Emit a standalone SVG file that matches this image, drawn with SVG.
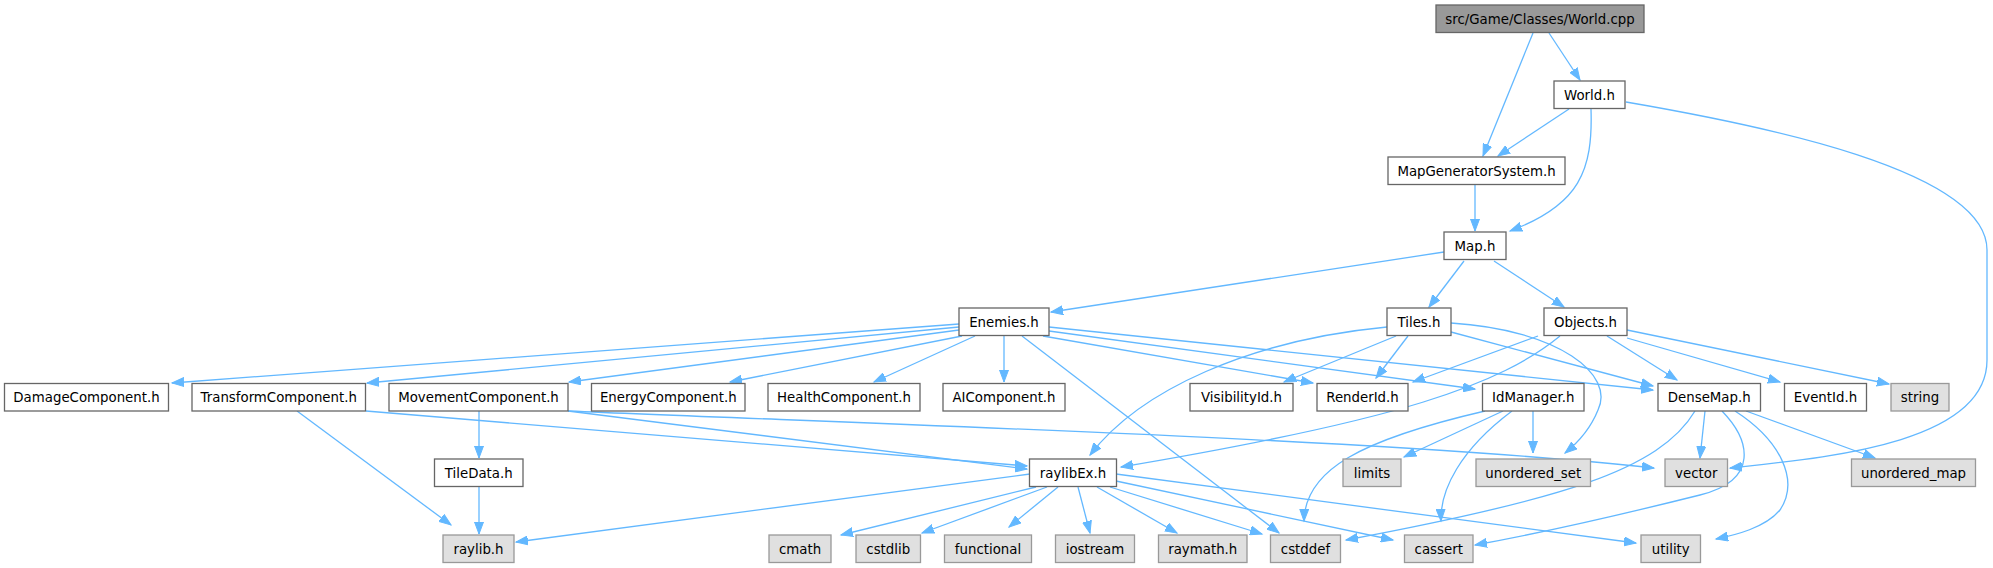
<svg xmlns="http://www.w3.org/2000/svg" width="1993" height="568" viewBox="0 0 1993 568">
<style>
.n rect{fill:#ffffff;stroke:#666666;stroke-width:1.3}
.n.root rect{fill:#999999;stroke:#666666}
.n.sys rect{fill:#e0e0e0;stroke:#999999}
.n text{font-family:"DejaVu Sans","Liberation Sans",sans-serif;font-size:13.33px;fill:#000000;text-anchor:middle}
#edges path{fill:none;stroke:#63b8ff;stroke-width:1.3;marker-end:url(#arr)}
</style>
<defs>
<marker id="arr" markerWidth="14" markerHeight="10" refX="12" refY="5" orient="auto" markerUnits="userSpaceOnUse">
<path d="M0,0.5 L12,5 L0,9.5 z" fill="#63b8ff" stroke="#63b8ff" stroke-width="1"/>
</marker>
</defs>
<rect width="1993" height="568" fill="#ffffff"/>
<g id="edges">
<path d="M1533,33 L1483,156"/>
<path d="M1549,33 L1580,80"/>
<path d="M1569,109 L1498,156"/>
<path d="M1591,109 C1593,170 1580,205 1510,231"/>
<path d="M1626,102 C1760,125 1987,170 1987,250 L1987,360 C1987,445 1820,458 1730,468"/>
<path d="M1475,185 L1475,231"/>
<path d="M1444,252 L1051,312"/>
<path d="M1464,261 L1429,307"/>
<path d="M1494,261 L1564,307"/>
<path d="M959,324 L172,383"/>
<path d="M959,327 L367,383"/>
<path d="M959,330 L569,382"/>
<path d="M962,336 L730,382"/>
<path d="M975,336 L874,382"/>
<path d="M1004,336 L1004,382"/>
<path d="M1022,336 L1279,533"/>
<path d="M1043,336 L1313,383"/>
<path d="M1049,331 L1475,389"/>
<path d="M1049,327 L1653,390"/>
<path d="M1387,327 C1250,340 1140,390 1090,455"/>
<path d="M1396,336 L1284,382"/>
<path d="M1408,336 L1376,378"/>
<path d="M1451,332 L1653,386"/>
<path d="M1451,323 C1560,330 1615,375 1598,410 C1590,430 1575,445 1565,453"/>
<path d="M1538,336 L1413,382"/>
<path d="M1560,336 C1500,385 1400,420 1121,467"/>
<path d="M1607,336 L1677,380"/>
<path d="M1627,338 L1780,382"/>
<path d="M1627,330 L1889,384"/>
<path d="M297,411 L451,525"/>
<path d="M366,411 L1027,466"/>
<path d="M479,411 L479,458"/>
<path d="M568,411 L1027,469"/>
<path d="M568,411 C900,425 1400,440 1654,468"/>
<path d="M479,487 L479,534"/>
<path d="M1030,474 L516,542"/>
<path d="M1036,487 L841,535"/>
<path d="M1047,487 L922,533"/>
<path d="M1058,487 L1009,527"/>
<path d="M1078,487 L1090,533"/>
<path d="M1097,487 L1177,533"/>
<path d="M1110,487 L1262,534"/>
<path d="M1116,481 L1393,540"/>
<path d="M1116,474 L1636,543"/>
<path d="M1503,411 L1404,457"/>
<path d="M1533,411 L1533,453"/>
<path d="M1485,411 C1360,440 1305,470 1304,521"/>
<path d="M1512,411 C1460,450 1440,490 1441,521"/>
<path d="M1705,411 L1700,458"/>
<path d="M1746,411 L1875,458"/>
<path d="M1695,411 C1660,470 1560,500 1346,540"/>
<path d="M1722,411 C1750,440 1760,480 1700,495 C1620,515 1530,535 1475,545"/>
<path d="M1735,411 C1780,440 1800,480 1780,510 C1765,528 1735,535 1716,539"/>
</g>
<g id="n_worldcpp" class="n root"><rect x="1436" y="5" width="208" height="27.5"/><text x="1540" y="23.5">src/Game/Classes/World.cpp</text></g>
<g id="n_worldh" class="n"><rect x="1554" y="81" width="71" height="27.5"/><text x="1589.5" y="99.5">World.h</text></g>
<g id="n_mapgen" class="n"><rect x="1388" y="157" width="177" height="27.5"/><text x="1476.5" y="175.5">MapGeneratorSystem.h</text></g>
<g id="n_map" class="n"><rect x="1444" y="232" width="62" height="27.5"/><text x="1475" y="250.5">Map.h</text></g>
<g id="n_enemies" class="n"><rect x="959" y="308" width="90" height="27.5"/><text x="1004" y="326.5">Enemies.h</text></g>
<g id="n_tiles" class="n"><rect x="1387" y="308" width="64" height="27.5"/><text x="1419" y="326.5">Tiles.h</text></g>
<g id="n_objects" class="n"><rect x="1544" y="308" width="83" height="27.5"/><text x="1585.5" y="326.5">Objects.h</text></g>
<g id="n_damage" class="n"><rect x="4.5" y="383.5" width="164" height="27.5"/><text x="86.5" y="402">DamageComponent.h</text></g>
<g id="n_transform" class="n"><rect x="192" y="383.5" width="173.5" height="27.5"/><text x="278.75" y="402">TransformComponent.h</text></g>
<g id="n_movement" class="n"><rect x="389" y="383.5" width="179" height="27.5"/><text x="478.5" y="402">MovementComponent.h</text></g>
<g id="n_energy" class="n"><rect x="591.5" y="383.5" width="153.5" height="27.5"/><text x="668.25" y="402">EnergyComponent.h</text></g>
<g id="n_health" class="n"><rect x="768" y="383.5" width="152" height="27.5"/><text x="844" y="402">HealthComponent.h</text></g>
<g id="n_ai" class="n"><rect x="943" y="383.5" width="122" height="27.5"/><text x="1004" y="402">AIComponent.h</text></g>
<g id="n_visibility" class="n"><rect x="1190" y="383.5" width="103" height="27.5"/><text x="1241.5" y="402">VisibilityId.h</text></g>
<g id="n_renderid" class="n"><rect x="1317" y="383.5" width="91" height="27.5"/><text x="1362.5" y="402">RenderId.h</text></g>
<g id="n_idmanager" class="n"><rect x="1482.5" y="383.5" width="101.5" height="27.5"/><text x="1533.25" y="402">IdManager.h</text></g>
<g id="n_densemap" class="n"><rect x="1658" y="383.5" width="102.5" height="27.5"/><text x="1709.25" y="402">DenseMap.h</text></g>
<g id="n_eventid" class="n"><rect x="1784.5" y="383.5" width="82" height="27.5"/><text x="1825.5" y="402">EventId.h</text></g>
<g id="n_string" class="n sys"><rect x="1891" y="383.5" width="58" height="27.5"/><text x="1920" y="402">string</text></g>
<g id="n_tiledata" class="n"><rect x="434.5" y="459" width="88.5" height="27.5"/><text x="478.75" y="477.5">TileData.h</text></g>
<g id="n_raylibex" class="n"><rect x="1029.5" y="459" width="87" height="27.5"/><text x="1073" y="477.5">raylibEx.h</text></g>
<g id="n_limits" class="n sys"><rect x="1343" y="459" width="58" height="27.5"/><text x="1372" y="477.5">limits</text></g>
<g id="n_uset" class="n sys"><rect x="1476" y="459" width="114.5" height="27.5"/><text x="1533.25" y="477.5">unordered_set</text></g>
<g id="n_vector" class="n sys"><rect x="1665" y="459" width="62.5" height="27.5"/><text x="1696.25" y="477.5">vector</text></g>
<g id="n_umap" class="n sys"><rect x="1851.5" y="459" width="124" height="27.5"/><text x="1913.5" y="477.5">unordered_map</text></g>
<g id="n_raylib" class="n sys"><rect x="443" y="535" width="71" height="27.5"/><text x="478.5" y="553.5">raylib.h</text></g>
<g id="n_cmath" class="n sys"><rect x="769" y="535" width="62" height="27.5"/><text x="800" y="553.5">cmath</text></g>
<g id="n_cstdlib" class="n sys"><rect x="856" y="535" width="64.5" height="27.5"/><text x="888.25" y="553.5">cstdlib</text></g>
<g id="n_functional" class="n sys"><rect x="944.5" y="535" width="87" height="27.5"/><text x="988" y="553.5">functional</text></g>
<g id="n_iostream" class="n sys"><rect x="1055.5" y="535" width="79" height="27.5"/><text x="1095" y="553.5">iostream</text></g>
<g id="n_raymath" class="n sys"><rect x="1158.5" y="535" width="88.5" height="27.5"/><text x="1202.75" y="553.5">raymath.h</text></g>
<g id="n_cstddef" class="n sys"><rect x="1270.5" y="535" width="70" height="27.5"/><text x="1305.5" y="553.5">cstddef</text></g>
<g id="n_cassert" class="n sys"><rect x="1404.5" y="535" width="68.5" height="27.5"/><text x="1438.75" y="553.5">cassert</text></g>
<g id="n_utility" class="n sys"><rect x="1641" y="535" width="59.5" height="27.5"/><text x="1670.75" y="553.5">utility</text></g>
</svg>
